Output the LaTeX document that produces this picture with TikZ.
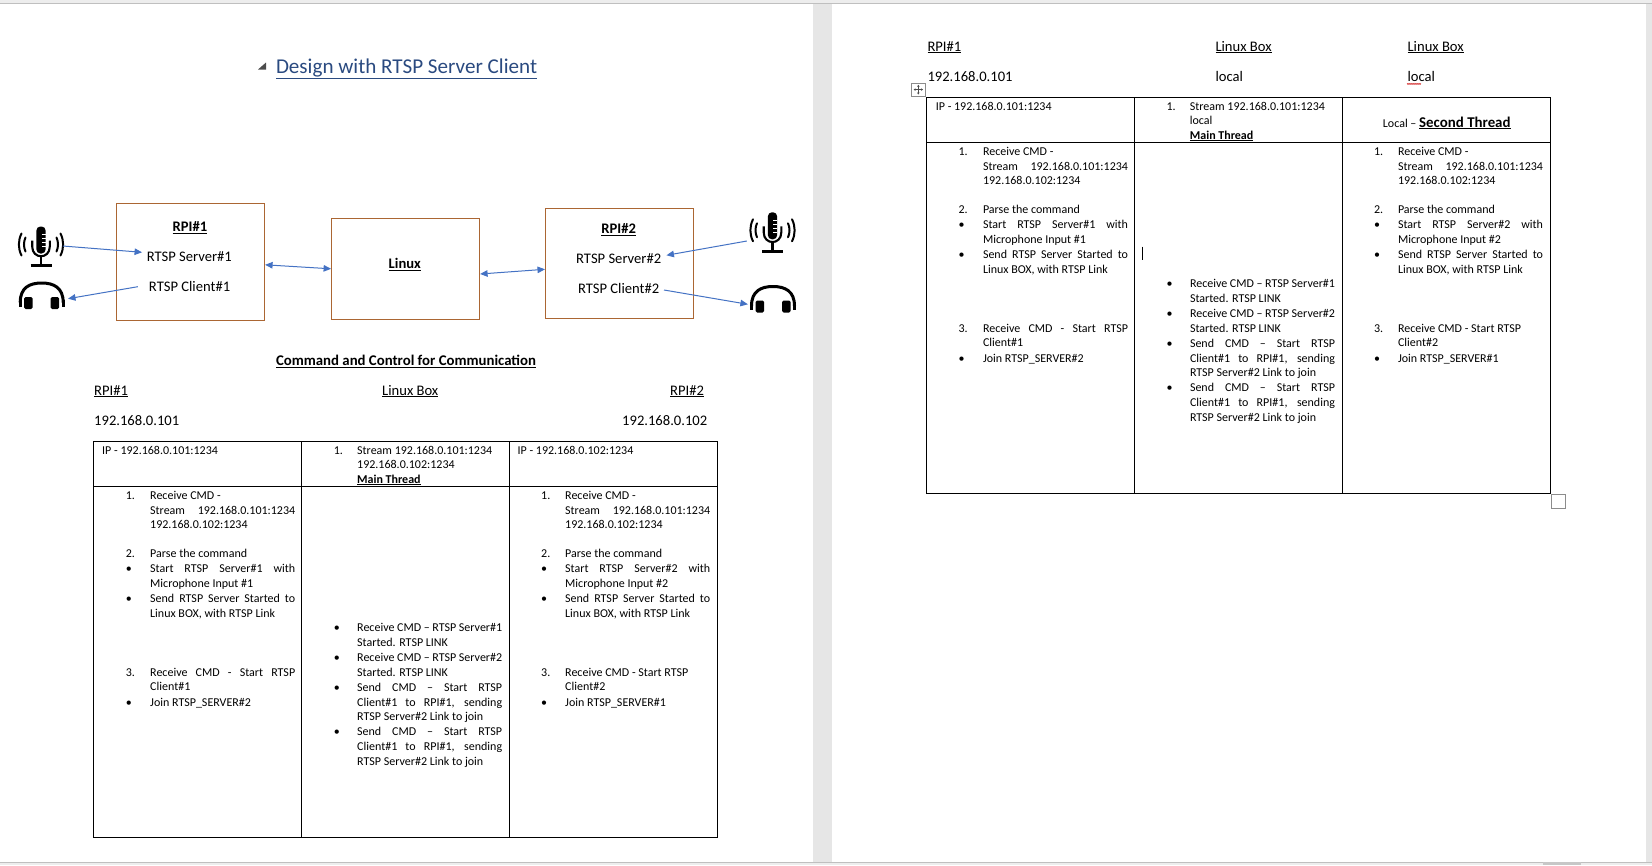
\documentclass[tikz,border=0pt]{standalone}
\usepackage{fontspec}
\setmainfont{Carlito}
\usetikzlibrary{arrows.meta}
\definecolor{boxbrown}{HTML}{AB6633}
\definecolor{arrowblue}{HTML}{4472C4}
\definecolor{titleblue}{HTML}{2A4A80}
\definecolor{chrome}{HTML}{E6E6E6}
\newcount\lnc
\newcommand\tl[3]{\global\advance\lnc by 1 \node[tx] (L\the\lnc) at (#1,#2+4) {#3};}
\newcommand\jl[1]{\makebox[145pt][s]{#1}}
\tikzset{
  tx/.style={anchor=base west,inner sep=0pt,font=\fontsize{12}{14}\selectfont,text=black},
  big/.style={anchor=base west,inner sep=0pt,font=\fontsize{14.6}{17}\selectfont,text=black},
  lbl/.style={inner sep=0pt,font=\fontsize{14.6}{17}\selectfont,text=black},
  devbox/.style={draw=boxbrown,line width=1pt,fill=white,inner sep=0pt},
  flow/.style={draw=arrowblue,line width=1pt,-{Triangle[length=7.5pt,width=6.5pt]}},
  flowboth/.style={draw=arrowblue,line width=1pt,{Triangle[length=7.5pt,width=6.5pt]}-{Triangle[length=7.5pt,width=6.5pt]}},
  grid/.style={draw=black,line width=1.1pt},
  micicon/.pic={
    \fill[black,rounded corners=4pt] (-4.6,0) rectangle (4.6,27);
    \foreach \yy in {8,12,16,20} \draw[white,line width=0.9pt] (0.8,\yy) -- (4.8,\yy);
    \draw[black,line width=2.1pt] (-8.8,14) -- (-8.8,20) .. controls (-8.8,33) and (8.8,33) .. (8.8,20) -- (8.8,14);
    \draw[black,line width=2.1pt] (0,30) -- (0,38);
    \draw[black,line width=2.4pt] (-10.5,39) -- (10.5,39);
    \draw[black,line width=2pt,line cap=round] (-15.5,11) .. controls (-17.5,15) and (-17.5,21) .. (-15.5,25);
    \draw[black,line width=2pt,line cap=round] (-19.5,7) .. controls (-23,14) and (-23,22) .. (-19.5,29);
    \draw[black,line width=2pt,line cap=round] (15.5,11) .. controls (17.5,15) and (17.5,21) .. (15.5,25);
    \draw[black,line width=2pt,line cap=round] (19.5,7) .. controls (23,14) and (23,22) .. (19.5,29);
  },
  hpicon/.pic={
    \draw[black,line width=3pt] (-21.5,21) .. controls (-21.5,6) and (-12,1.5) .. (0,1.5) .. controls (12,1.5) and (21.5,6) .. (21.5,21);
    \fill[black,rounded corners=1.5pt] (-17.5,15.5) rectangle (-9,27.5);
    \fill[black,rounded corners=1.5pt] (9,15.5) rectangle (17.5,27.5);
    \fill[black] (-23,18) rectangle (-20,25);
    \fill[black] (20,18) rectangle (23,25);
  }
}
% Body rows, shared by both tables
\newcommand\tablebody{%
  % column 1
  \tl{125.6}{495}{1.}\tl{150}{495}{Receive CMD -}
  \tl{150}{510}{\jl{Stream\ \ \ 192.168.0.101:1234}}
  \tl{150}{524}{192.168.0.102:1234}
  \tl{125.6}{553}{2.}\tl{150}{553}{Parse the command}
  \tl{125.6}{568}{•}\tl{150}{568}{\jl{Start RTSP Server\#1 with}}
  \tl{150}{583}{Microphone Input \#1}
  \tl{125.6}{598}{•}\tl{150}{598}{\jl{Send RTSP Server Started to}}
  \tl{150}{613}{Linux BOX, with RTSP Link}
  \tl{125.6}{672}{3.}\tl{150}{672}{\jl{Receive CMD - Start RTSP}}
  \tl{150}{686}{Client\#1}
  \tl{125.6}{702}{•}\tl{150}{702}{Join RTSP\_SERVER\#2}
  % column 2
  \tl{333.7}{627}{•}\tl{357}{627}{\jl{Receive CMD – RTSP Server\#1}}
  \tl{357}{642}{Started. RTSP LINK}
  \tl{333.7}{657}{•}\tl{357}{657}{\jl{Receive CMD – RTSP Server\#2}}
  \tl{357}{672}{Started. RTSP LINK}
  \tl{333.7}{687}{•}\tl{357}{687}{\jl{Send CMD – Start RTSP}}
  \tl{357}{702}{\jl{Client\#1 to RPI\#1, sending}}
  \tl{357}{716}{RTSP Server\#2 Link to join}
  \tl{333.7}{731}{•}\tl{357}{731}{\jl{Send CMD – Start RTSP}}
  \tl{357}{746}{\jl{Client\#1 to RPI\#1, sending}}
  \tl{357}{761}{RTSP Server\#2 Link to join}
  % column 3
  \tl{541}{495}{1.}\tl{565}{495}{Receive CMD -}
  \tl{565}{510}{\jl{Stream\ \ \ 192.168.0.101:1234}}
  \tl{565}{524}{192.168.0.102:1234}
  \tl{541}{553}{2.}\tl{565}{553}{Parse the command}
  \tl{541}{568}{•}\tl{565}{568}{\jl{Start RTSP Server\#2 with}}
  \tl{565}{583}{Microphone Input \#2}
  \tl{541}{598}{•}\tl{565}{598}{\jl{Send RTSP Server Started to}}
  \tl{565}{613}{Linux BOX, with RTSP Link}
  \tl{541}{672}{3.}\tl{565}{672}{Receive CMD - Start RTSP}
  \tl{565}{686}{Client\#2}
  \tl{541}{702}{•}\tl{565}{702}{Join RTSP\_SERVER\#1}
  % grid
  \draw[grid] (93.3,441.7) rectangle (717.6,837.3);
  \draw[grid] (93.3,486.3) -- (717.6,486.3);
  \draw[grid] (301.4,441.7) -- (301.4,837.3);
  \draw[grid] (509.5,441.7) -- (509.5,837.3);
}
\begin{document}
\begin{tikzpicture}[x=1pt,y=-1pt]
\useasboundingbox (0,0) rectangle (1652,865);
% window chrome
\fill[white] (0,0) rectangle (1652,865);
\fill[chrome] (813,0) rectangle (832,865);
\fill[chrome] (1646,0) rectangle (1652,865);
\fill[black!7] (0,0) rectangle (1652,3.3);
\fill[black!7] (0,862) rectangle (1652,865);
\draw[black!25,line width=0.6pt] (0,3.3) -- (1652,3.3);
\draw[black!25,line width=0.6pt] (0,862) -- (1652,862);
\fill[black!22] (1543,862) rectangle (1581,865);
% title
\fill[black!70] (266,62.5) -- (266,69.5) -- (258,69.5) -- cycle;
\node[anchor=base west,inner sep=0pt,font=\fontsize{21.1}{25}\selectfont,text=titleblue] (title) at (275.8,73) {\underline{Design with RTSP Server Client}};
% devices
\node[devbox,minimum width=148.5pt,minimum height=117pt] (rpi1) at (190.35,261.8) {};
\node[devbox,minimum width=148pt,minimum height=101pt] (linux) at (405.6,268.8) {};
\node[devbox,minimum width=148pt,minimum height=110pt] (rpi2) at (619.5,263.3) {};
\node[lbl] (rpi1t) at (189.9,227.7) {\textbf{\underline{RPI\#1}}};
\node[lbl] (s1) at (189.3,256.7) {RTSP Server\#1};
\node[lbl] (c1) at (189.6,286.7) {RTSP Client\#1};
\node[lbl] (lnx) at (404.8,264.5) {\textbf{\underline{Linux}}};
\node[lbl] (rpi2t) at (618.7,229.7) {\textbf{\underline{RPI\#2}}};
\node[lbl] (s2) at (618.7,258.7) {RTSP Server\#2};
\node[lbl] (c2) at (618.7,288.7) {RTSP Client\#2};
% icons
\pic at (41,226.5) {micicon};
\pic at (41.7,281.5) {hpicon};
\pic at (772.5,212.3) {micicon};
\pic at (773,285) {hpicon};
\coordinate (mic1) at (62.8,246);
\coordinate (hp1) at (68,298.7);
\coordinate (mic2) at (746.9,241);
\coordinate (hp2) at (747.9,304.3);
% connectors
\draw[flow] (mic1) -- ([xshift=-4.5pt,yshift=4.4pt]s1.west);
\draw[flow] ([xshift=-11pt]c1.west) -- (hp1);
\draw[flowboth] ([yshift=-3pt]rpi1.east) -- (linux.west);
\draw[flowboth] ([yshift=-5.2pt]linux.east) -- ([yshift=-6pt]rpi2.west);
\draw[flow] (mic2) -- ([xshift=5pt,yshift=3.4pt]s2.east);
\draw[flow] ([xshift=4.5pt,yshift=-1.3pt]c2.east) -- (hp2);
% command and control
\node[lbl,font=\fontsize{14.8}{17}\selectfont\bfseries] (cc) at (406,361.3) {\underline{Command and Control for Communication}};
\node[big] (h1) at (94,395) {\underline{RPI\#1}};
\node[big] (h2) at (382,395) {\underline{Linux Box}};
\node[big] (h3) at (670,395) {\underline{RPI\#2}};
\node[big] (ip1) at (94,425) {192.168.0.101};
\node[big] (ip2) at (622,425) {192.168.0.102};
% table 1 header
\tl{102}{450}{IP - 192.168.0.101:1234}
\tl{333.7}{450}{1.}\tl{357}{450}{Stream 192.168.0.101:1234}
\tl{357}{464.3}{192.168.0.102:1234}
\tl{357}{479}{\textbf{\underline{Main Thread}}}
\tl{517.4}{450}{IP - 192.168.0.102:1234}
\tablebody
% second page
\node[big] (h4) at (927.3,51) {\underline{RPI\#1}};
\node[big] (h5) at (1215.3,51) {\underline{Linux Box}};
\node[big] (h6) at (1407.4,51) {\underline{Linux Box}};
\node[big] (ip3) at (927.3,81) {192.168.0.101};
\node[big] (ip4) at (1215.3,81) {local};
\node[big] (ip5) at (1407.4,81) {local};
\draw[red!80!black,line width=0.5pt] (1407,83.3)
  \foreach \i in {1,...,14} { -- ++(1,{mod(\i,2)==1 ? 1.2 : -1.2}) } ;
\draw[black!45,line width=0.8pt,fill=white] (911.7,83.3) rectangle (925,96);
\draw[black!70,line width=0.6pt,{Stealth[length=2pt,width=2.5pt]}-{Stealth[length=2pt,width=2.5pt]}] (913.6,89.6) -- (923,89.6);
\draw[black!70,line width=0.6pt,{Stealth[length=2pt,width=2.5pt]}-{Stealth[length=2pt,width=2.5pt]}] (918.3,84.8) -- (918.3,94.5);
\tl{935.6}{106}{IP - 192.168.0.101:1234}
\tl{1166.3}{106}{1.}\tl{1189.7}{106}{Stream 192.168.0.101:1234}
\tl{1189.7}{120.3}{local}
\tl{1189.7}{135}{\textbf{\underline{Main Thread}}}
\node[tx] (loc) at (1382.7,127) {Local – {\fontsize{14.9}{17}\selectfont\textbf{\underline{Second Thread}}}};
\begin{scope}[shift={(832.8,-344)}]
\tablebody
\end{scope}
\draw[black,line width=0.7pt] (1142,246.7) -- (1142,260);
\draw[black!45,line width=0.9pt] (1551,494.3) rectangle (1565.7,508.3);
\end{tikzpicture}
\end{document}
